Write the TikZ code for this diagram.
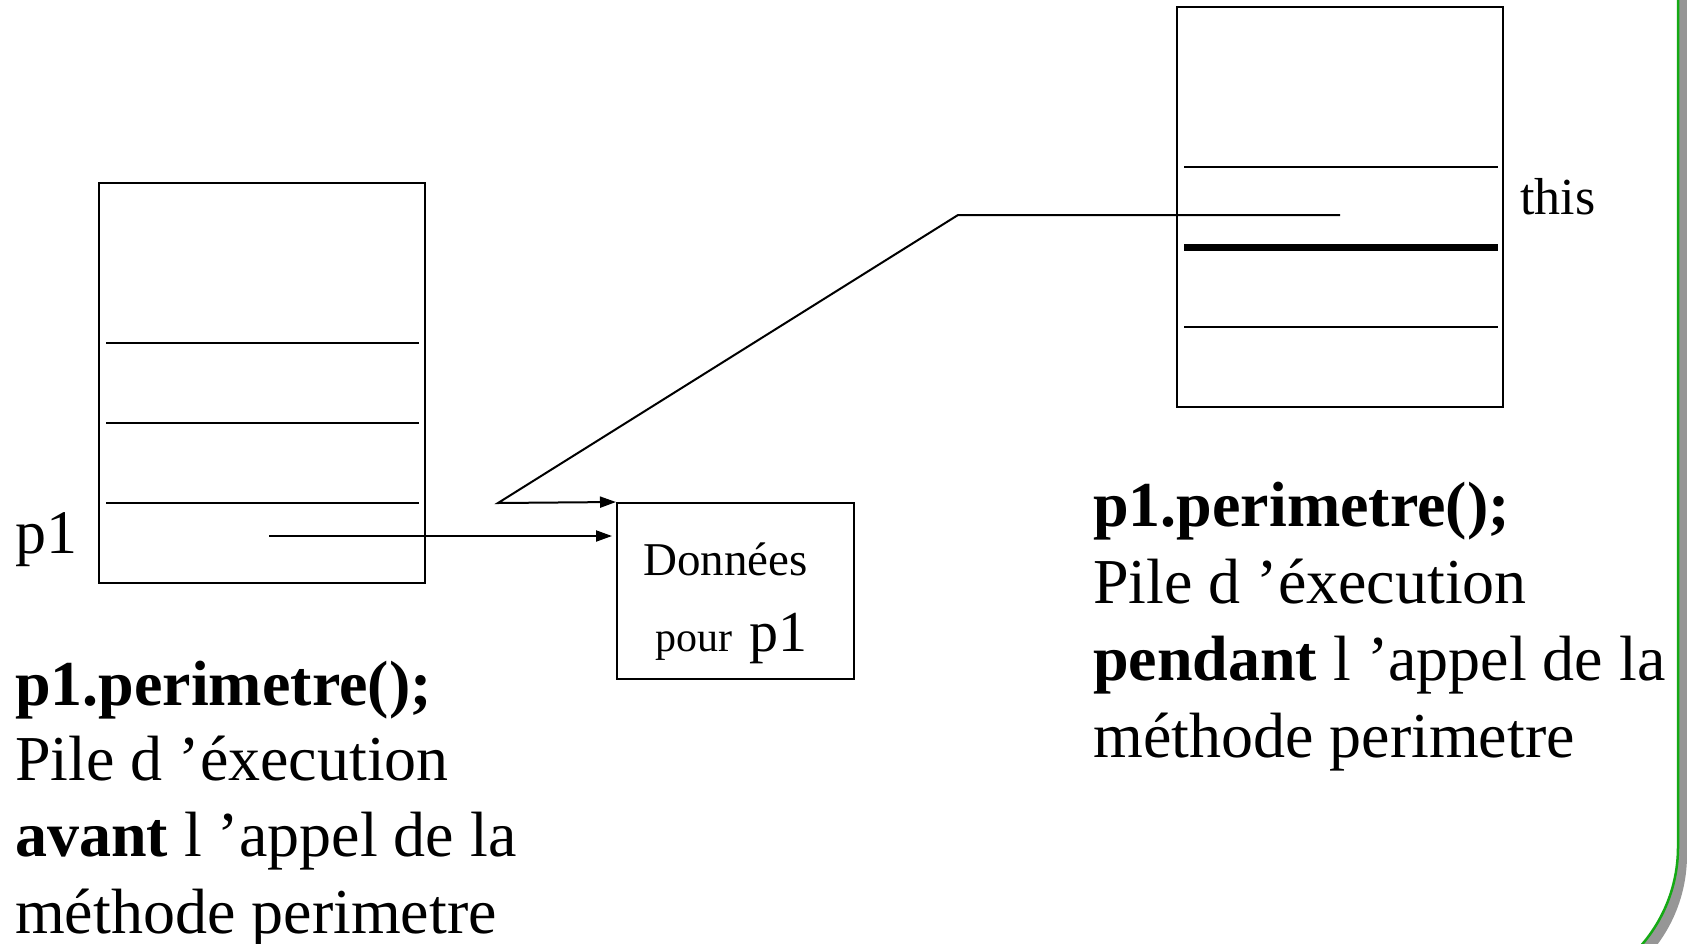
\documentclass[tikz,border=0pt]{standalone}
\usepackage{fontspec}
\setmainfont{Liberation Serif}
\usetikzlibrary{arrows.meta}
\definecolor{framegreen}{RGB}{20,170,20}
\definecolor{shadowgray}{RGB}{150,150,150}
\begin{document}
\begin{tikzpicture}[x=1pt,y=-1pt,
  stackbox/.style={draw, line width=2.5pt, rectangle, inner sep=0pt},
  slot/.style={line width=2pt},
  heavyslot/.style={line width=7pt},
  ptr/.style={line width=2pt, -{Triangle[length=16pt,width=11pt]}},
  bigtext/.style={anchor=base west, inner sep=0pt, font=\fontsize{64}{76}\selectfont},
  midtext/.style={anchor=base west, inner sep=0pt},
]
\useasboundingbox (0,0) rectangle (1687,943);
\begin{scope}
\clip (0,0) rectangle (1687,943);
\fill[shadowgray, rounded corners=150pt] (-200,-200) rectangle (1687,1005);
\filldraw[fill=white, draw=framegreen, line width=2.5pt, rounded corners=150pt] (-200,-200) rectangle (1678,997);
\end{scope}

% left stack (avant)
\node[stackbox, minimum width=326pt, minimum height=400pt] (avant) at (262,383) {};
\draw[slot] (106,343) -- (419,343);
\draw[slot] (106,423) -- (419,423);
\draw[slot] (106,503) -- (419,503);
\node[midtext, font=\fontsize{62}{66}\selectfont] (p1lbl) at (15,553) {p1};

% right stack (pendant)
\node[stackbox, minimum width=326pt, minimum height=400pt] (pendant) at (1340,207) {};
\draw[slot] (1184,167) -- (1498,167);
\draw[heavyslot] (1184,247) -- (1498,247);
\draw[slot] (1184,327) -- (1498,327);
\node[midtext, font=\fontsize{52}{56}\selectfont] (thislbl) at (1520,214) {this};

% data box
\node[stackbox, line width=2pt, minimum width=237pt, minimum height=176pt] (donnees) at (735.5,591) {};
\node[midtext, font=\fontsize{47}{52}\selectfont] (dtxt) at (643,575) {Données};
\node[midtext, font=\fontsize{42}{46}\selectfont] (ptxt) at (655,651) {pour};
\node[midtext, font=\fontsize{58}{62}\selectfont] (p1txt) at (749,651) {p1};

% connectors
\coordinate (p1ref) at (269,536);
\draw[ptr, shorten >=4pt] (p1ref) -- (p1ref -| donnees.west);
\coordinate (thisref) at (1340,215);
\coordinate (bendA) at (958,215);
\coordinate (bendB) at (498,503);
\draw[ptr] (thisref) -- (bendA) -- (bendB) -- (donnees.north west);

% left caption
\node[bigtext] (l1) at (15,705) {\textbf{p1.perimetre();}};
\node[bigtext] (l2) at (15,780) {Pile d ’éxecution};
\node[bigtext] (l3) at (15,856) {\textbf{avant} l ’appel de la};
\node[bigtext] (l4) at (15,933) {méthode perimetre};

% right caption
\node[bigtext] (r1) at (1093,526) {\textbf{p1.perimetre();}};
\node[bigtext] (r2) at (1093,603) {Pile d ’éxecution};
\node[bigtext] (r3) at (1093,680) {\textbf{pendant} l ’appel de la};
\node[bigtext] (r4) at (1093,757) {méthode perimetre};
\end{tikzpicture}
\end{document}
